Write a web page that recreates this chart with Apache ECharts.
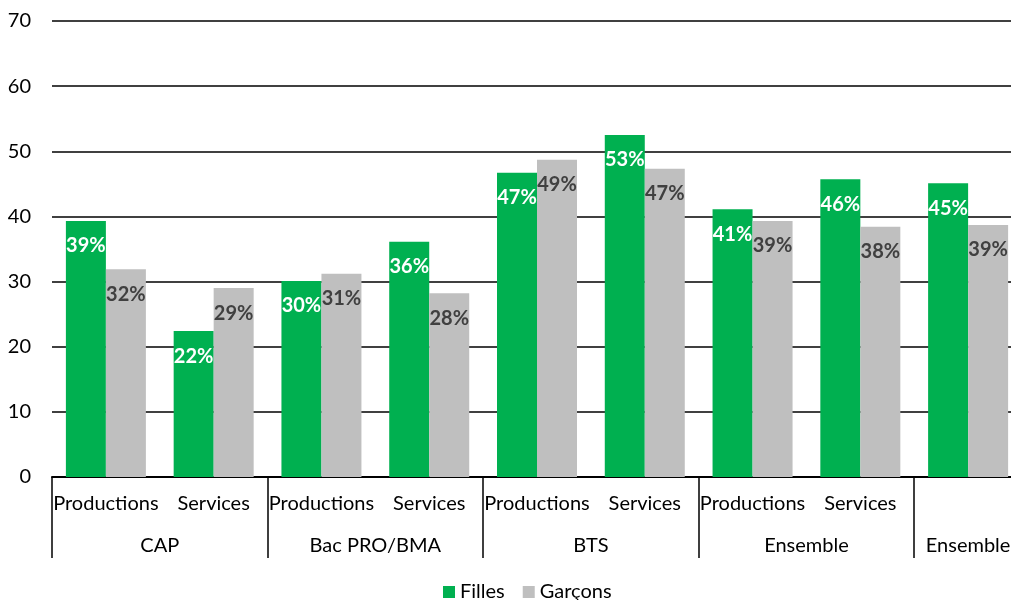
<!DOCTYPE html>
<html>
<head>
<meta charset="utf-8">
<script src="https://cdn.jsdelivr.net/npm/echarts@6/dist/echarts.min.js"></script>
<style>html,body{margin:0;padding:0;background:#fff}#c{width:1011px;height:600px}</style>
</head>
<body>
<div id="c"></div>
<script>
const categories = ['Productions','Services','Productions','Services','Productions','Services','Productions','Services',''];
const groups = ['CAP','Bac PRO/BMA','BTS','Ensemble','Ensemble'];
const groupSpans = [2,2,2,2,1];
const filles = [39.3,22.4,30.1,36.1,46.7,52.5,41.1,45.7,45.1];
const garcons = [31.9,29.0,31.2,28.2,48.7,47.3,39.3,38.4,38.7];
const yTicks = [0,10,20,30,40,50,60,70];

// Build half-step group axis
const halfCount = categories.length * 2 + 1;
const halfCats = new Array(halfCount).fill('');
const tickIdx = new Set([0]);
let pos = 0;
groups.forEach((g, i) => {
  const mid = pos * 2 + groupSpans[i];
  halfCats[mid] = g;
  pos += groupSpans[i];
  tickIdx.add(pos * 2);
});

const FONT = 'Lato';
const chart = echarts.init(document.getElementById('c'));
chart.setOption({
  animation: false,
  textStyle: { fontFamily: FONT },
  grid: { left: 52, width: 970, top: 21, bottom: 123, containLabel: false, outerBoundsMode: 'none' },
  legend: {
    data: ['Filles','Garçons'],
    top: 582, left: 443, padding: 0,
    itemWidth: 12, itemHeight: 12, itemGap: 18,
    icon: 'rect',
    textStyle: { fontSize: 20, color: '#000', fontFamily: FONT }
  },
  xAxis: [
    {
      type: 'category', data: categories, position: 'bottom',
      axisLine: { show: true, lineStyle: { color: '#000', width: 2 } },
      axisTick: { show: false },
      axisLabel: { interval: 0, margin: 17, fontSize: 20, color: '#000', fontFamily: FONT }
    },
    {
      type: 'category', data: halfCats, position: 'bottom', boundaryGap: false,
      axisLine: { show: false },
      axisTick: { show: true, length: 81, interval: (i) => tickIdx.has(i), lineStyle: { color: '#000', width: 1.5 } },
      axisLabel: { interval: (i, v) => v !== '', margin: 59, fontSize: 20, color: '#000', fontFamily: FONT }
    }
  ],
  yAxis: {
    type: 'value', min: yTicks[0], max: yTicks[yTicks.length-1], interval: yTicks[1]-yTicks[0],
    axisLine: { show: false }, axisTick: { show: false },
    axisLabel: { margin: 21, fontSize: 20, color: '#000', fontFamily: FONT },
    splitLine: { lineStyle: { color: '#000', width: 1.5 } }
  },
  series: [
    {
      name: 'Filles', type: 'bar', data: filles, xAxisIndex: 0,
      barWidth: 40, barGap: '0%',
      itemStyle: { color: '#00B050' },
      label: { show: true, position: 'insideTop', distance: 15, fontSize: 20, fontWeight: 'bold', color: '#fff', fontFamily: FONT,
        formatter: p => Math.round(p.value) + '%' }
    },
    {
      name: 'Garçons', type: 'bar', data: garcons, xAxisIndex: 0,
      barWidth: 40, barGap: '0%',
      itemStyle: { color: '#BFBFBF' },
      label: { show: true, position: 'insideTop', distance: 15, fontSize: 20, fontWeight: 'bold', color: '#404040', fontFamily: FONT,
        formatter: p => Math.round(p.value) + '%' }
    }
  ]
});
</script>
</body>
</html>
